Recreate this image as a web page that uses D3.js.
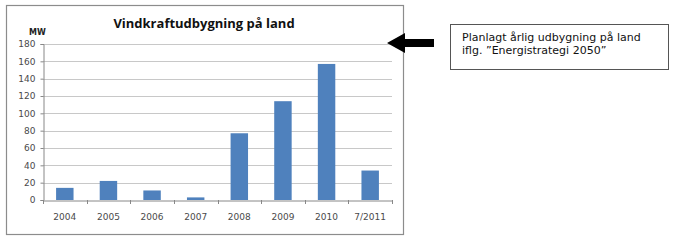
<!DOCTYPE html>
<html>
<head>
<meta charset="utf-8">
<script src="https://cdn.jsdelivr.net/npm/d3@7"></script>
<style>
  body { margin: 0; background: #fff; }
  svg { display: block; }
</style>
</head>
<body>
<svg width="700" height="241"></svg>
<script>
const years = ['2004', '2005', '2006', '2007', '2008', '2009', '2010', '7/2011']
const mw = [14, 22, 11, 3, 77, 114, 157, 34]
const yTicks = [0, 20, 40, 60, 80, 100, 120, 140, 160, 180]
const noteLines = ['Planlagt årlig udbygning på land', 'iflg. ”Energistrategi 2050”']

var svg = d3.select('svg')

var plot = { left: 43, right: 392, top: 44, bottom: 200 }

var x = d3.scaleBand()
  .domain(years)
  .range([plot.left, plot.right])
  .paddingInner(0.6)
  .paddingOuter(0.3)

var xEdges = d3.scaleBand().domain(years).range([plot.left, plot.right])

var y = d3.scaleLinear().domain([0, 180]).range([plot.bottom, plot.top])

// chart frame
svg.append('rect')
  .attr('x', 6.5).attr('y', 5.5)
  .attr('width', 397).attr('height', 229)
  .attr('fill', '#fff')
  .attr('stroke', '#8c8c8c')
  .attr('stroke-width', 1.2)

// gridlines
svg.append('g')
  .selectAll('line')
  .data(yTicks.filter(d => d > 0))
  .enter()
  .append('line')
  .attr('x1', plot.left)
  .attr('x2', plot.right)
  .attr('y1', d => Math.round(y(d)) + 0.5)
  .attr('y2', d => Math.round(y(d)) + 0.5)
  .attr('stroke', '#c8c8c8')

// bars
svg.append('g')
  .selectAll('rect')
  .data(years)
  .enter()
  .append('rect')
  .attr('x', d => x(d))
  .attr('width', x.bandwidth())
  .attr('y', (d, i) => y(mw[i]))
  .attr('height', (d, i) => y(0) - y(mw[i]))
  .attr('fill', '#4f81bd')

// y axis
var yAxis = svg.append('g')
  .attr('transform', `translate(${plot.left + 0.5},0)`)
  .call(d3.axisLeft(y).tickValues(yTicks).tickSize(3).tickPadding(5))
yAxis.select('.domain').attr('stroke', '#888')
yAxis.selectAll('.tick line').attr('stroke', '#888')
yAxis.selectAll('text')
  .attr('font-family', 'DejaVu Sans, sans-serif')
  .attr('font-size', 9)
  .attr('fill', '#4a4a4a')

// x axis
var xAxis = svg.append('g')
  .attr('transform', `translate(0,${plot.bottom + 0.5})`)
  .call(d3.axisBottom(x).tickSize(0).tickPadding(13))
xAxis.select('.domain').attr('stroke', '#888')
xAxis.selectAll('text')
  .attr('font-family', 'DejaVu Sans, sans-serif')
  .attr('font-size', 9)
  .attr('fill', '#4a4a4a')

// category separators on x axis
svg.append('g')
  .selectAll('line')
  .data(years.concat(['end']))
  .enter()
  .append('line')
  .attr('x1', (d, i) => Math.round(plot.left + i * xEdges.step()) + 0.5)
  .attr('x2', (d, i) => Math.round(plot.left + i * xEdges.step()) + 0.5)
  .attr('y1', plot.bottom)
  .attr('y2', plot.bottom + 4)
  .attr('stroke', '#888')

// title
svg.append('text')
  .attr('x', 204)
  .attr('y', 28)
  .attr('text-anchor', 'middle')
  .attr('font-family', 'Open Sans, sans-serif')
  .attr('font-weight', 'bold')
  .attr('font-size', 13)
  .attr('fill', '#111')
  .text('Vindkraftudbygning på land')

svg.append('text')
  .attr('x', 29)
  .attr('y', 35)
  .attr('font-family', 'DejaVu Sans, sans-serif')
  .attr('font-weight', 'bold')
  .attr('font-size', 8)
  .attr('fill', '#222')
  .text('MW')

// arrow
svg.append('path')
  .attr('d', 'M387,43 L405,33 L405,39 L434,39 L434,47 L405,47 L405,53 Z')
  .attr('fill', '#000')

// note box
svg.append('rect')
  .attr('x', 450.5).attr('y', 24.5)
  .attr('width', 218).attr('height', 45)
  .attr('fill', '#fff')
  .attr('stroke', '#555')

svg.append('g')
  .selectAll('text')
  .data(noteLines)
  .enter()
  .append('text')
  .attr('x', 462)
  .attr('y', (d, i) => 41 + i * 13)
  .attr('font-family', 'DejaVu Sans, sans-serif')
  .attr('font-size', 11)
  .attr('fill', '#111')
  .text(d => d)
</script>
</body>
</html>
